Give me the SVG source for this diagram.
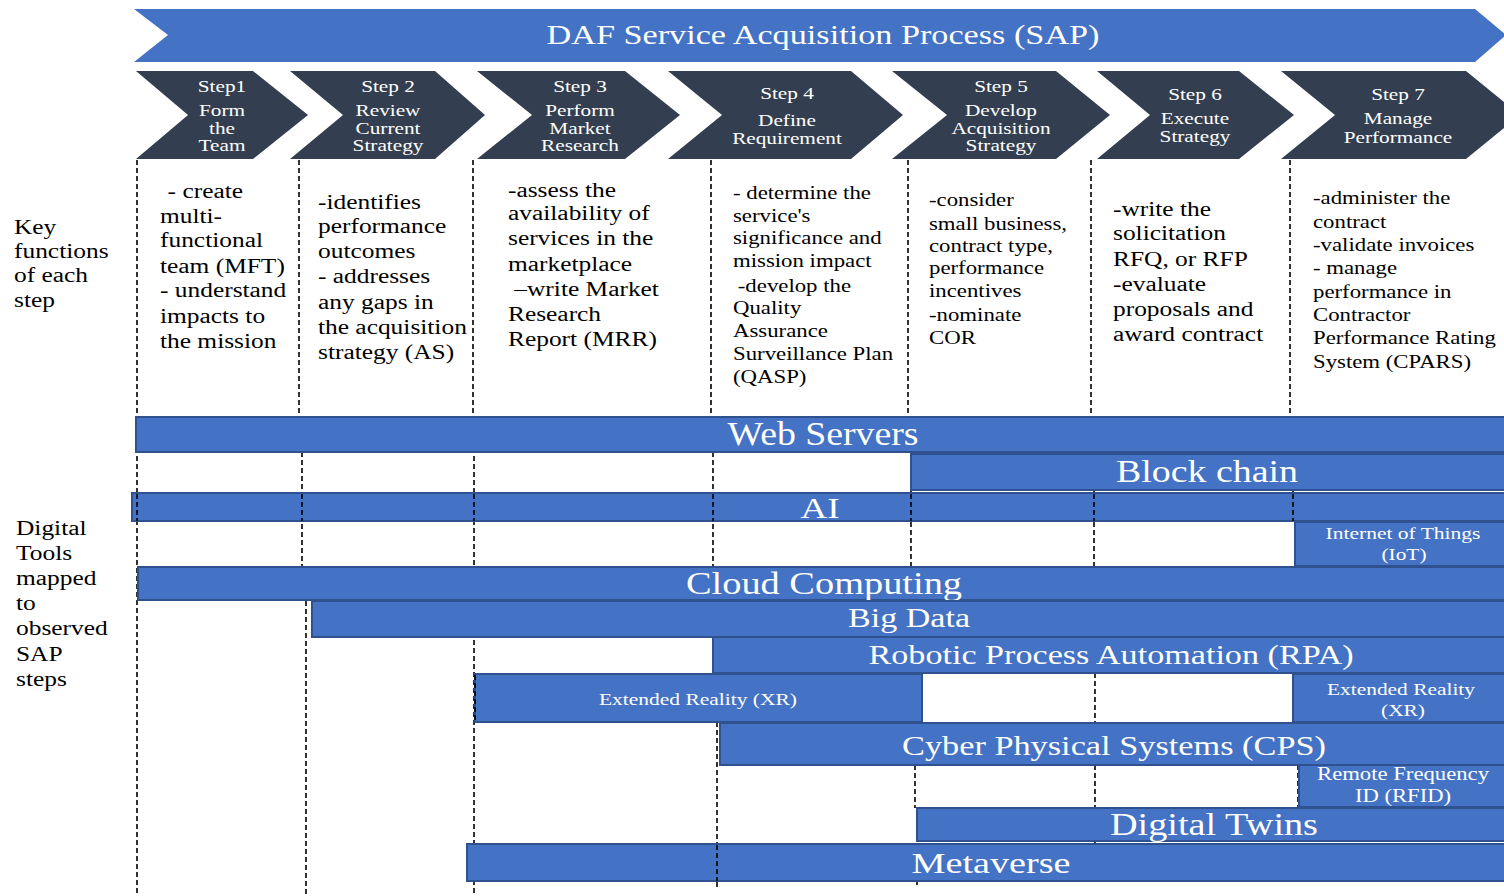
<svg xmlns="http://www.w3.org/2000/svg" width="1504" height="896" viewBox="0 0 1504 896">
  <style>
    .banner { fill: #4472c4; }
    .step { fill: #333f50; }
    .steptxt { font-family: "Liberation Serif", "Times New Roman", serif; font-size: 17px; fill: #ffffff; text-anchor: middle; }
    .body { font-family: "Liberation Serif", "Times New Roman", serif; font-size: 20px; fill: #000000; }
    .body19 { font-family: "Liberation Serif", "Times New Roman", serif; font-size: 19px; fill: #000000; }
    .bar { fill: #4472c4; stroke: #2f528f; stroke-width: 2; }
    .bartxt { font-family: "Liberation Serif", "Times New Roman", serif; fill: #ffffff; text-anchor: middle; }
    .divider { fill: none; stroke: #000000; stroke-width: 1.6; stroke-dasharray: 5 3; }
  </style>

  <!-- Process banner -->
  <g id="banner">
    <polygon class="banner" points="134,9 1475,9 1506,35 1475,62 134,62 168,35"/>
    <text x="823" y="44" class="bartxt" font-size="27" textLength="553" lengthAdjust="spacingAndGlyphs">DAF Service Acquisition Process (SAP)</text>
  </g>

  <!-- Step chevrons (labels widened 1.25x about their centre) -->
  <g id="step1">
    <polygon class="step" points="136,71 253,71 308,115 253,159 136,159 188,115"/>
    <g transform="matrix(1.25,0,0,1,-55.5,0)">
      <text class="steptxt" x="222" y="92">Step1</text>
      <text class="steptxt" x="222" y="116">Form</text>
      <text class="steptxt" x="222" y="134">the</text>
      <text class="steptxt" x="222" y="151">Team</text>
    </g>
  </g>
  <g id="step2">
    <polygon class="step" points="290,71 435,71 485,115 435,159 290,159 343,115"/>
    <g transform="matrix(1.25,0,0,1,-97,0)">
      <text class="steptxt" x="388" y="92">Step 2</text>
      <text class="steptxt" x="388" y="116">Review</text>
      <text class="steptxt" x="388" y="134">Current</text>
      <text class="steptxt" x="388" y="151">Strategy</text>
    </g>
  </g>
  <g id="step3">
    <polygon class="step" points="477,71 625,71 680,115 625,159 477,159 532,115"/>
    <g transform="matrix(1.25,0,0,1,-145,0)">
      <text class="steptxt" x="580" y="92">Step 3</text>
      <text class="steptxt" x="580" y="116">Perform</text>
      <text class="steptxt" x="580" y="134">Market</text>
      <text class="steptxt" x="580" y="151">Research</text>
    </g>
  </g>
  <g id="step4">
    <polygon class="step" points="668,71 851,71 903,115 851,159 668,159 722,115"/>
    <g transform="matrix(1.25,0,0,1,-196.75,0)">
      <text class="steptxt" x="787" y="99" font-size="20">Step 4</text>
      <text class="steptxt" x="787" y="126">Define</text>
      <text class="steptxt" x="787" y="144">Requirement</text>
    </g>
  </g>
  <g id="step5">
    <polygon class="step" points="892,71 1056,71 1110,115 1056,159 892,159 947,115"/>
    <g transform="matrix(1.25,0,0,1,-250.25,0)">
      <text class="steptxt" x="1001" y="92">Step 5</text>
      <text class="steptxt" x="1001" y="116">Develop</text>
      <text class="steptxt" x="1001" y="134">Acquisition</text>
      <text class="steptxt" x="1001" y="151">Strategy</text>
    </g>
  </g>
  <g id="step6">
    <polygon class="step" points="1097,71 1239,71 1294,115 1239,159 1097,159 1150,115"/>
    <g transform="matrix(1.25,0,0,1,-298.75,0)">
      <text class="steptxt" x="1195" y="100">Step 6</text>
      <text class="steptxt" x="1195" y="124">Execute</text>
      <text class="steptxt" x="1195" y="142">Strategy</text>
    </g>
  </g>
  <g id="step7">
    <polygon class="step" points="1281,71 1466,71 1520,115 1466,159 1281,159 1335,115"/>
    <g transform="matrix(1.25,0,0,1,-349.5,0)">
      <text class="steptxt" x="1398" y="100">Step 7</text>
      <text class="steptxt" x="1398" y="124">Manage</text>
      <text class="steptxt" x="1398" y="143">Performance</text>
    </g>
  </g>

  <!-- Row labels -->
  <g id="label-functions" class="body" transform="matrix(1.27,0,0,1,-3.78,0)">
    <text x="14" y="234">Key</text>
    <text x="14" y="258">functions</text>
    <text x="14" y="282">of each</text>
    <text x="14" y="307">step</text>
  </g>
  <g id="label-tools" class="body" transform="matrix(1.27,0,0,1,-4.32,0)">
    <text x="16" y="535">Digital</text>
    <text x="16" y="560">Tools</text>
    <text x="16" y="585">mapped</text>
    <text x="16" y="610">to</text>
    <text x="16" y="635">observed</text>
    <text x="16" y="661">SAP</text>
    <text x="16" y="686">steps</text>
  </g>

  <!-- Key functions per step -->
  <g id="functions1" class="body" transform="matrix(1.27,0,0,1,-43.2,0)">
    <text x="166" y="198">- create</text>
    <text x="160" y="223">multi-</text>
    <text x="160" y="247">functional</text>
    <text x="160" y="273">team (MFT)</text>
    <text x="160" y="297">- understand</text>
    <text x="160" y="323">impacts to</text>
    <text x="160" y="348">the mission</text>
  </g>
  <g id="functions2" class="body" transform="matrix(1.27,0,0,1,-85.86,0)">
    <text x="318" y="209">-identifies</text>
    <text x="318" y="233">performance</text>
    <text x="318" y="258">outcomes</text>
    <text x="318" y="283">- addresses</text>
    <text x="318" y="309">any gaps in</text>
    <text x="318" y="334">the acquisition</text>
    <text x="318" y="359">strategy (AS)</text>
  </g>
  <g id="functions3" class="body" transform="matrix(1.27,0,0,1,-137.16,0)">
    <text x="508" y="197">-assess the</text>
    <text x="508" y="220">availability of</text>
    <text x="508" y="245">services in the</text>
    <text x="508" y="271">marketplace</text>
    <text x="513" y="296">–write Market</text>
    <text x="508" y="321">Research</text>
    <text x="508" y="346">Report (MRR)</text>
  </g>
  <g id="functions4" class="body19" transform="matrix(1.2,0,0,1,-146.6,0)">
    <text x="733" y="199">- determine the</text>
    <text x="733" y="222">service's</text>
    <text x="733" y="244">significance and</text>
    <text x="733" y="267">mission impact</text>
    <text x="737" y="292">-develop the</text>
    <text x="733" y="314">Quality</text>
    <text x="733" y="337">Assurance</text>
    <text x="733" y="360">Surveillance Plan</text>
    <text x="733" y="383">(QASP)</text>
  </g>
  <g id="functions5" class="body19" transform="matrix(1.2,0,0,1,-185.8,0)">
    <text x="929" y="206">-consider</text>
    <text x="929" y="230">small business,</text>
    <text x="929" y="252">contract type,</text>
    <text x="929" y="274">performance</text>
    <text x="929" y="297">incentives</text>
    <text x="929" y="321">-nominate</text>
    <text x="929" y="344">COR</text>
  </g>
  <g id="functions6" class="body" transform="matrix(1.27,0,0,1,-300.51,0)">
    <text x="1113" y="216">-write the</text>
    <text x="1113" y="240">solicitation</text>
    <text x="1113" y="266">RFQ, or RFP</text>
    <text x="1113" y="291">-evaluate</text>
    <text x="1113" y="316">proposals and</text>
    <text x="1113" y="341">award contract</text>
  </g>
  <g id="functions7" class="body19" transform="matrix(1.2,0,0,1,-262.6,0)">
    <text x="1313" y="204">-administer the</text>
    <text x="1313" y="228">contract</text>
    <text x="1313" y="251">-validate invoices</text>
    <text x="1313" y="274">- manage</text>
    <text x="1313" y="298">performance in</text>
    <text x="1313" y="321">Contractor</text>
    <text x="1313" y="344">Performance Rating</text>
    <text x="1313" y="368">System (CPARS)</text>
  </g>

  <!-- Step dividers (dashed), behind the tool bars -->
  <g id="connectors">
    <path class="divider" d="M137 160 V896"/>
    <path class="divider" d="M299 160 V416 M302 452 V601 M306 601 V896"/>
    <path class="divider" d="M473 160 V416 M474 416 V896"/>
    <path class="divider" d="M711 160 V416 M713 452 V637 M717 722 V890"/>
    <path class="divider" d="M908 160 V416 M911 490 V567 M915 765 V808 M917 880 V887"/>
    <path class="divider" d="M1091 160 V416 M1094 490 V567 M1095 673 V723 M1095 765 V808 M1095 840 V845"/>
    <path class="divider" d="M1290 160 V416 M1293 490 V522 M1298 765 V808"/>
  </g>

  <!-- Digital tool bars -->
  <g id="web-servers">
    <rect class="bar" x="136" y="417" width="1372" height="35"/>
    <text class="bartxt" x="823" y="445" font-size="33" textLength="191" lengthAdjust="spacingAndGlyphs">Web Servers</text>
  </g>
  <g id="block-chain">
    <rect class="bar" x="911" y="454" width="597" height="36"/>
    <text class="bartxt" x="1207" y="482" font-size="31" textLength="182" lengthAdjust="spacingAndGlyphs">Block chain</text>
  </g>
  <g id="ai">
    <rect class="bar" x="132" y="493" width="1376" height="28"/>
  </g>
  <g id="iot">
    <rect class="bar" x="1295" y="522" width="213" height="44"/>
    <text class="bartxt" x="1403" y="539" font-size="16" textLength="155" lengthAdjust="spacingAndGlyphs">Internet of Things</text>
    <text class="bartxt" x="1404" y="560" font-size="16" textLength="45" lengthAdjust="spacingAndGlyphs">(IoT)</text>
  </g>
  <g id="cloud-computing">
    <rect class="bar" x="138" y="567" width="1370" height="33"/>
    <text class="bartxt" x="824" y="594" font-size="31" textLength="276" lengthAdjust="spacingAndGlyphs">Cloud Computing</text>
  </g>
  <g id="big-data">
    <rect class="bar" x="312" y="601" width="1196" height="36"/>
    <text class="bartxt" x="909" y="627" font-size="27" textLength="122" lengthAdjust="spacingAndGlyphs">Big Data</text>
  </g>
  <g id="rpa">
    <rect class="bar" x="713" y="637" width="795" height="36"/>
    <text class="bartxt" x="1111" y="664" font-size="27" textLength="485" lengthAdjust="spacingAndGlyphs">Robotic Process Automation (RPA)</text>
  </g>
  <g id="xr-left">
    <rect class="bar" x="475" y="674" width="447" height="48"/>
    <text class="bartxt" x="698" y="705" font-size="17" textLength="198" lengthAdjust="spacingAndGlyphs">Extended Reality (XR)</text>
  </g>
  <g id="xr-right">
    <rect class="bar" x="1293" y="674" width="215" height="48"/>
    <text class="bartxt" x="1401" y="695" font-size="17" textLength="148" lengthAdjust="spacingAndGlyphs">Extended Reality</text>
    <text class="bartxt" x="1403" y="716" font-size="17" textLength="44" lengthAdjust="spacingAndGlyphs">(XR)</text>
  </g>
  <g id="cps">
    <rect class="bar" x="720" y="723" width="788" height="42"/>
    <text class="bartxt" x="1114" y="755" font-size="27" textLength="424" lengthAdjust="spacingAndGlyphs">Cyber Physical Systems (CPS)</text>
  </g>
  <g id="rfid">
    <rect class="bar" x="1299" y="765" width="209" height="42"/>
    <text class="bartxt" x="1403" y="780" font-size="18" textLength="172" lengthAdjust="spacingAndGlyphs">Remote Frequency</text>
    <text class="bartxt" x="1403" y="802" font-size="18" textLength="96" lengthAdjust="spacingAndGlyphs">ID (RFID)</text>
  </g>
  <g id="digital-twins">
    <rect class="bar" x="917" y="808" width="591" height="33"/>
    <text class="bartxt" x="1214" y="835" font-size="32" textLength="208" lengthAdjust="spacingAndGlyphs">Digital Twins</text>
  </g>
  <g id="metaverse">
    <rect class="bar" x="467" y="844" width="1041" height="37"/>
    <text class="bartxt" x="991" y="873" font-size="30" textLength="159" lengthAdjust="spacingAndGlyphs">Metaverse</text>
  </g>

  <!-- Dividers that show through the AI and Metaverse bars -->
  <g id="connectors-over">
    <path class="divider" d="M137 494 V521 M302 494 V521 M474 494 V521 M713 494 V521 M911 494 V521 M1094 494 V521 M1293 494 V521"/>
    <path class="divider" d="M475 675 V721 M717 845 V881"/>
  </g>
  <text class="bartxt" x="820" y="518" font-size="29" textLength="39" lengthAdjust="spacingAndGlyphs">AI</text>
</svg>
